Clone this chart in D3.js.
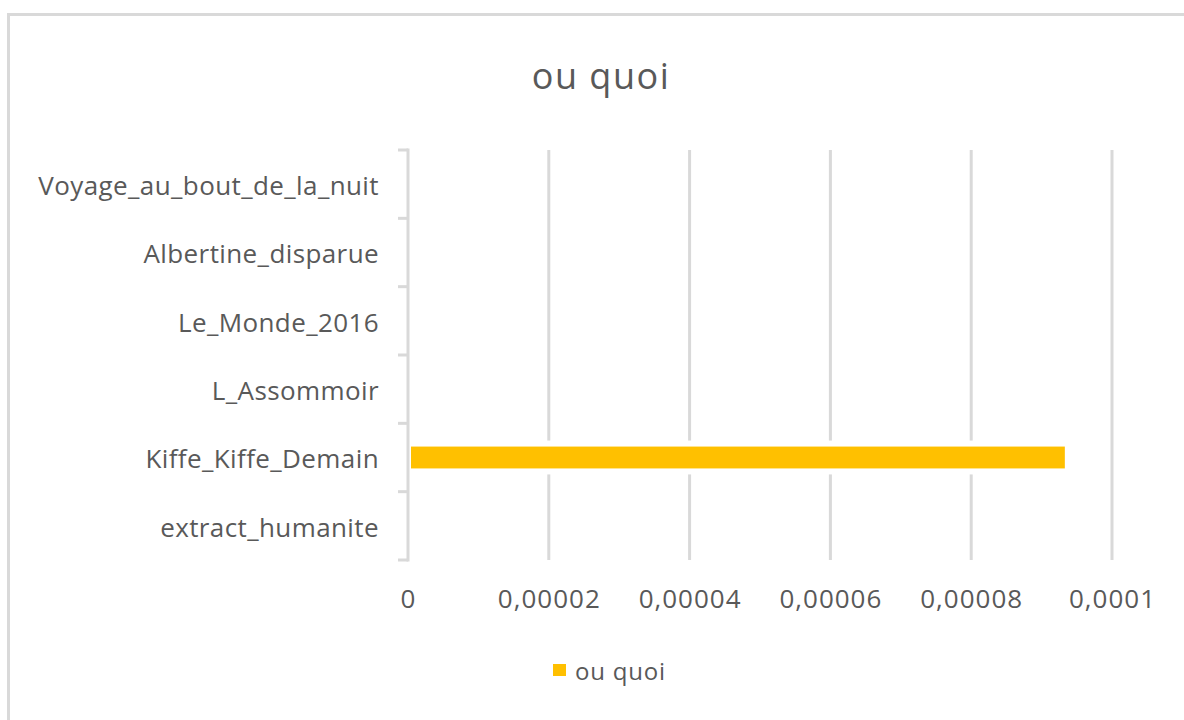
<!DOCTYPE html>
<html>
<head>
<meta charset="utf-8">
<script src="https://cdn.jsdelivr.net/npm/d3@7"></script>
<style>
  body { margin: 0; background: #fff; }
  text { font-family: "Open Sans", sans-serif; fill: #595959; }
</style>
</head>
<body>
<svg></svg>
<script>
const width = 1184;
const height = 720;

const categories = ["Voyage_au_bout_de_la_nuit", "Albertine_disparue", "Le_Monde_2016",
    "L_Assommoir", "Kiffe_Kiffe_Demain", "extract_humanite"];
const values = [0, 0, 0, 0, 0.0000933, 0];
const tickValues = [0, 0.00002, 0.00004, 0.00006, 0.00008, 0.0001];
const seriesName = "ou quoi";
const title = "ou quoi";

const plotLeft = 408, plotRight = 1112, plotTop = 150, plotBottom = 560;

let svg = d3.select("svg").attr("width", width).attr("height", height);

// chart frame
svg.append("rect")
    .attr("x", 8.5).attr("y", 14.5)
    .attr("width", 1200).attr("height", 760)
    .attr("fill", "none")
    .attr("stroke", "#d9d9d9")
    .attr("stroke-width", 3);

svg.append("text")
    .attr("x", 601).attr("y", 89)
    .attr("text-anchor", "middle")
    .style("font-size", "36px")
    .style("letter-spacing", "1.5px")
    .text(title);

const locale = d3.formatLocale({ decimal: ",", thousands: " ", grouping: [3], currency: ["", " €"] });
const fmt = locale.format(".5~f");

let scX = d3.scaleLinear().domain([0, 0.0001]).range([plotLeft, plotRight]);
let scY = d3.scaleBand().domain(categories).range([plotTop, plotBottom]).paddingInner(0.68).paddingOuter(0.34);

// gridlines
svg.append("g")
    .selectAll("line")
    .data(tickValues.slice(1))
    .enter()
    .append("line")
    .attr("x1", d => scX(d)).attr("x2", d => scX(d))
    .attr("y1", plotTop).attr("y2", plotBottom)
    .attr("stroke", "#d9d9d9")
    .attr("stroke-width", 3);

// bars (with white halo like the original)
let data = categories.map((c, i) => ({ label: c, value: values[i] })).filter(d => d.value > 0);
svg.append("g")
    .selectAll("rect")
    .data(data)
    .enter()
    .append("rect")
    .attr("x", scX(0))
    .attr("y", d => scY(d.label) - 6)
    .attr("width", d => scX(d.value) - scX(0) + 3)
    .attr("height", scY.bandwidth() + 12)
    .attr("fill", "#fff");
svg.append("g")
    .selectAll("rect")
    .data(data)
    .enter()
    .append("rect")
    .attr("x", scX(0) + 3)
    .attr("y", d => scY(d.label))
    .attr("width", d => scX(d.value) - scX(0) - 3)
    .attr("height", scY.bandwidth())
    .attr("fill", "#ffc000");

// y axis
let axisY = d3.axisLeft(scY).tickSize(10).tickPadding(19);
let gy = svg.append("g")
    .attr("transform", `translate(${plotLeft},0)`)
    .call(axisY);
gy.select(".domain").remove();
gy.selectAll(".tick line").remove();
gy.selectAll("text")
    .style("font-size", "26px")
    .style("letter-spacing", "0.4px")
    .attr("fill", "#595959")
    .attr("dy", "0.42em");
let bounds = d3.range(categories.length + 1).map(i => plotTop + i * (plotBottom - plotTop) / categories.length);
svg.append("line")
    .attr("x1", plotLeft).attr("x2", plotLeft)
    .attr("y1", plotTop - 1.5).attr("y2", plotBottom + 1.5)
    .attr("stroke", "#d9d9d9").attr("stroke-width", 3);
svg.append("g")
    .selectAll("line")
    .data(bounds)
    .enter()
    .append("line")
    .attr("x1", plotLeft - 10).attr("x2", plotLeft)
    .attr("y1", d => d).attr("y2", d => d)
    .attr("stroke", "#d9d9d9").attr("stroke-width", 3);

// x axis labels
let axisX = d3.axisBottom(scX).tickValues(tickValues).tickFormat(fmt).tickSize(0).tickPadding(0);
let gx = svg.append("g")
    .attr("transform", `translate(0,${plotBottom})`)
    .call(axisX);
gx.select(".domain").remove();
gx.selectAll("text")
    .style("font-size", "26px")
    .style("letter-spacing", "1px")
    .attr("fill", "#595959")
    .attr("y", 48).attr("dy", 0);

// legend
svg.append("rect")
    .attr("x", 553).attr("y", 664)
    .attr("width", 13).attr("height", 12)
    .attr("fill", "#ffc000");
svg.append("text")
    .attr("x", 575).attr("y", 680)
    .style("font-size", "24px")
    .style("letter-spacing", "0.8px")
    .text(seriesName);
</script>
</body>
</html>
